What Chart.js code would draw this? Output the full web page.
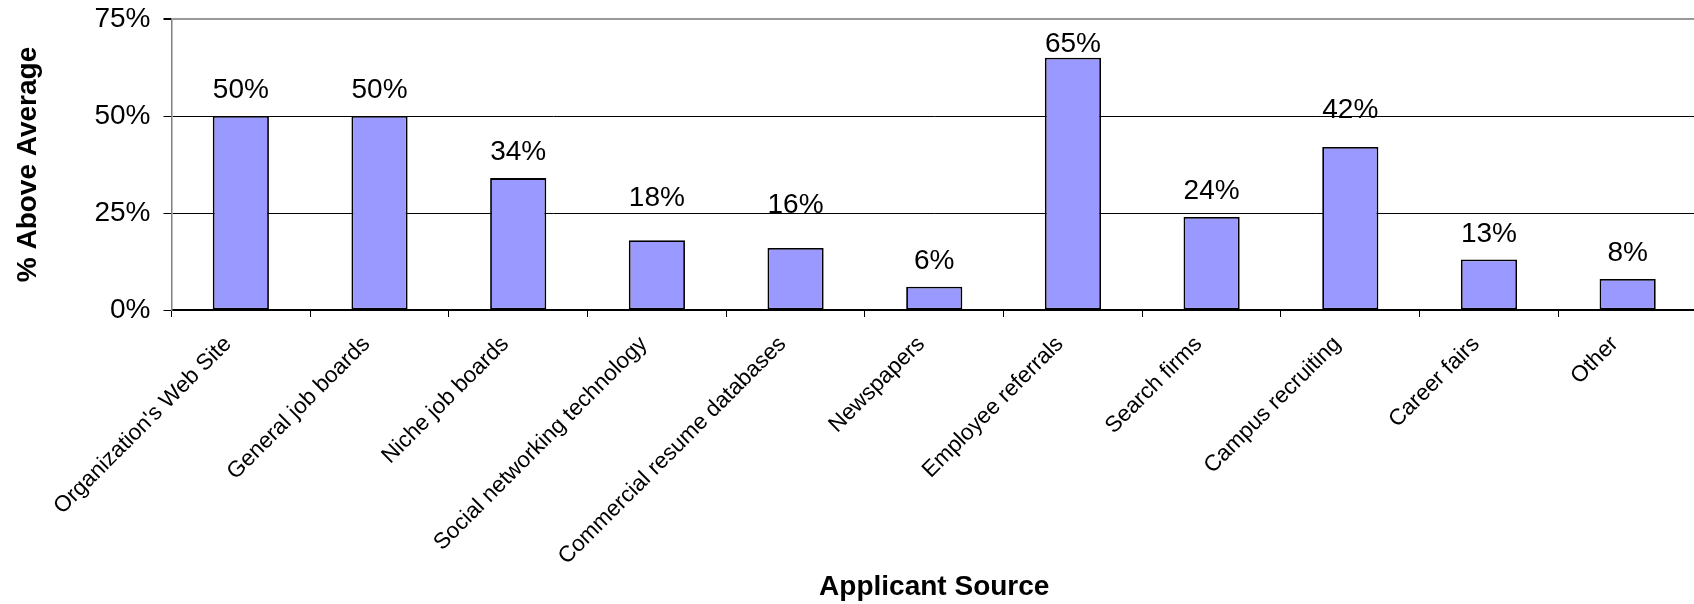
<!DOCTYPE html>
<html>
<head>
<meta charset="utf-8">
<title>Applicant Source</title>
<script src="https://cdn.jsdelivr.net/npm/chart.js@4/dist/chart.umd.min.js"></script>
<style>
  html, body { margin: 0; padding: 0; background: #fff; overflow: hidden; }
  #wrap { width: 1700px; height: 604px; position: relative; }
</style>
</head>
<body>
<div id="wrap"><canvas id="sourceChart"></canvas></div>
<script>
/* % above average by applicant source */

const SOURCES = [
  "Organization's Web Site",
  'General job boards',
  'Niche job boards',
  'Social networking technology',
  'Commercial resume databases',
  'Newspapers',
  'Employee referrals',
  'Search firms',
  'Campus recruiting',
  'Career fairs',
  'Other',
];

const PCT_ABOVE_AVG = [50, 50, 34, 18, 16, 6, 65, 24, 42, 13, 8];

const Y_TICKS = [0, 25, 50, 75];

const FONT = "'Liberation Sans', Arial, Helvetica, sans-serif";

// value labels over the bars; a few were nudged by hand in the original layout
const LABEL_LIFT = { 3: 16, 4: 17, 6: -12, 8: 11 };

const barLabels = {
  id: 'barLabels',
  afterDatasetsDraw(chart) {
    const { ctx } = chart;
    const meta = chart.getDatasetMeta(0);
    ctx.save();
    ctx.font = '28px ' + FONT;
    ctx.fillStyle = '#000';
    ctx.textAlign = 'center';
    ctx.textBaseline = 'alphabetic';
    meta.data.forEach((bar, i) => {
      const lift = 18 + (LABEL_LIFT[i] || 0);
      ctx.fillText(PCT_ABOVE_AVG[i] + '%', bar.x, bar.y - lift);
    });
    ctx.restore();
  },
};

new Chart(document.getElementById('sourceChart'), {
  type: 'bar',
  data: {
    labels: SOURCES,
    datasets: [{
      data: PCT_ABOVE_AVG,
      backgroundColor: '#9999FF',
      borderColor: '#000',
      borderWidth: 1.8,
      borderSkipped: false,
      barPercentage: 0.405,
      categoryPercentage: 1,
    }],
  },
  options: {
    responsive: true, maintainAspectRatio: false,
    animation: false,
    layout: { padding: { left: 0, right: 3, top: 19, bottom: 0 } },
    plugins: {
      legend: { display: false },
      tooltip: { enabled: false },
    },
    scales: {
      x: {
        afterFit: s => { s.height = 294; s.paddingLeft = 0; s.paddingRight = 0; },
        border: { display: true, color: '#000', width: 2 },
        grid: { offset: true, drawOnChartArea: false, drawTicks: true, tickLength: 7, color: '#000' },
        ticks: {
          color: '#000', font: { family: FONT, size: 22.5 },
          maxRotation: 45, minRotation: 45, padding: 14, labelOffset: -13, autoSkip: false,
        },
        title: {
          display: true, text: 'Applicant Source', color: '#000',
          font: { family: FONT, size: 28, weight: 'bold' },
          padding: { top: 0, bottom: 0 },
        },
      },
      y: {
        min: 0, max: 75,
        afterFit: s => { s.width = 171.5; s.paddingTop = 0; s.paddingBottom = 0; },
        afterBuildTicks: s => { s.ticks = Y_TICKS.map(v => ({ value: v })); },
        border: { display: true, color: '#808080', width: 1.5 },
        grid: {
          color: ctx => (ctx.tick && ctx.tick.value === 75 ? '#999' : '#000'),
          lineWidth: ctx => (ctx.tick && ctx.tick.value === 75 ? 2 : 1),
          tickColor: '#000',
          tickLength: 8,
        },
        ticks: {
          color: '#000', font: { family: FONT, size: 28 },
          padding: 13, callback: v => v + '%',
        },
        title: {
          display: true, text: '% Above Average', color: '#000',
          font: { family: FONT, size: 28, weight: 'bold' },
          padding: { top: 11, bottom: 0 },
        },
      },
    },
  },
  plugins: [barLabels],
});
</script>
</body>
</html>
